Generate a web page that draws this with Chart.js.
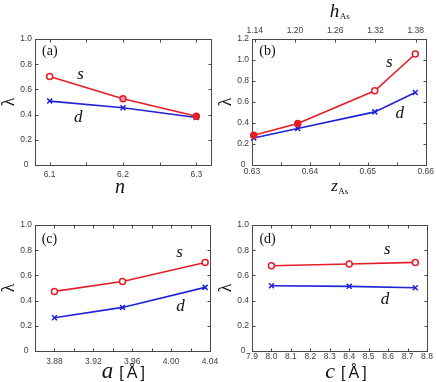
<!DOCTYPE html>
<html><head><meta charset="utf-8">
<script src="https://cdn.jsdelivr.net/npm/chart.js@4.4.0/dist/chart.umd.min.js"></script>
<style>
html,body{margin:0;padding:0;background:#fff;}
#wrap{position:relative;width:436px;height:382px;overflow:hidden;background:#fff}
canvas{position:absolute;left:0;top:0}
</style></head><body>
<div id="wrap">
<canvas id="pa" width="436" height="382"></canvas>
<canvas id="pb" width="436" height="382"></canvas>
<canvas id="pc" width="436" height="382"></canvas>
<canvas id="pd" width="436" height="382"></canvas>
</div>
<script>
// ---------------- data ----------------
// (a) lambda vs n
const nValues = [6.1, 6.2, 6.3];
const sVsN = [0.703, 0.525, 0.387];
const dVsN = [0.507, 0.454, 0.377];
// (b) lambda vs z_As (top axis h_As)
const zAsValues = [0.6303, 0.6379, 0.6512, 0.6582];
const sVsZ = [0.283, 0.395, 0.707, 1.057];
const dVsZ = [0.258, 0.347, 0.506, 0.691];
// (c) lambda vs a
const aValues = [3.88, 3.95, 4.035];
const sVsA = [0.473, 0.552, 0.703];
const dVsA = [0.264, 0.346, 0.505];
// (d) lambda vs c
const cValues = [8.0, 8.4, 8.74];
const sVsC = [0.677, 0.690, 0.703];
const dVsC = [0.518, 0.513, 0.502];

// ---------------- ticks ----------------
const lambdaTicks1 = [0, 0.2, 0.4, 0.6, 0.8, 1.0];
const lambdaLabels1 = ['0', '0.2', '0.4', '0.6', '0.8', '1.0'];
const lambdaTicks2 = [0, 0.2, 0.4, 0.6, 0.8, 1.0, 1.2];
const lambdaLabels2 = ['0', '0.2', '0.4', '0.6', '0.8', '1.0', '1.2'];
const nTicks = [6.1, 6.15, 6.2, 6.25, 6.3];
const nLabels = ['6.1', '', '6.2', '', '6.3'];
const zTicks = [0.63, 0.635, 0.64, 0.645, 0.65, 0.655, 0.66];
const zLabels = ['0.63', '', '0.64', '', '0.65', '', '0.66'];
const hTicks = [1.14, 1.20, 1.26, 1.32, 1.38];
const hLabels = ['1.14', '1.20', '1.26', '1.32', '1.38'];
const aTicks = [3.86, 3.88, 3.90, 3.92, 3.94, 3.96, 3.98, 4.00, 4.02, 4.04];
const aLabels = ['', '3.88', '', '3.92', '', '3.96', '', '4.00', '', '4.04'];
const cTicks = [7.9, 8.0, 8.1, 8.2, 8.3, 8.4, 8.5, 8.6, 8.7, 8.8];
const cLabels = ['7.9', '8.0', '8.1', '8.2', '8.3', '8.4', '8.5', '8.6', '8.7', '8.8'];

// ---------------- styles ----------------
const RED = '#e31e26', BLUE = '#1f23d6', FRAME = '#474747', TXT = '#111', TICKTXT = '#3c3c3c';
const SERIF = '"Liberation Serif", "DejaVu Serif", serif';
const SANS = '"Liberation Sans", Arial, sans-serif';
const W = 436, H = 382, YW = 35, XH = 20, TICKFONT = 8.5;

function drawRuns(ctx, runs, cx, base) {
  ctx.save();
  ctx.fillStyle = TXT; ctx.textBaseline = 'alphabetic'; ctx.textAlign = 'left';
  let w = 0;
  runs.forEach((r, i) => { ctx.font = r.font; r._w = ctx.measureText(r.t).width; w += r._w + (i < runs.length - 1 ? (r.gap || 0) : 0); });
  let x = cx - w / 2;
  runs.forEach(r => { ctx.font = r.font; ctx.fillText(r.t, x, base + (r.dy || 0)); x += r._w + (r.gap || 0); });
  ctx.restore();
}

const decor = {
  id: 'decor',
  beforeDatasetsDraw(chart, args, o) {
    const {ctx, chartArea: ca} = chart;
    const L = Math.round(ca.left) + 0.5, R = Math.round(ca.right) + 0.5;
    const T = Math.round(ca.top) + 0.5, B = Math.round(ca.bottom) + 0.5;
    ctx.save();
    ctx.strokeStyle = FRAME; ctx.lineWidth = 1;
    ctx.beginPath();
    const len = 3;
    Object.values(chart.scales).forEach(sc => {
      sc.ticks.forEach(t => {
        const p = Math.round(sc.getPixelForValue(t.value)) + 0.5;
        if (sc.axis === 'x') {
          if (sc.position === 'bottom') {
            ctx.moveTo(p, B); ctx.lineTo(p, B - len);
            if (o.mirrorX) { ctx.moveTo(p, T); ctx.lineTo(p, T + len); }
          } else { ctx.moveTo(p, T); ctx.lineTo(p, T + len); }
        } else {
          ctx.moveTo(L, p); ctx.lineTo(L + len, p);
          ctx.moveTo(R, p); ctx.lineTo(R - len, p);
        }
      });
    });
    ctx.stroke();
    ctx.strokeRect(L, T, R - L, B - T);
    ctx.restore();
  },
  afterDraw(chart, args, o) {
    const {ctx} = chart;
    const xs = chart.scales.x, ys = chart.scales.y;
    (o.notes || []).forEach(n => {
      ctx.save();
      ctx.font = n.font; ctx.fillStyle = TXT; ctx.textAlign = n.align || 'center'; ctx.textBaseline = 'alphabetic';
      ctx.fillText(n.t, xs.getPixelForValue(n.at[0]), ys.getPixelForValue(n.at[1]));
      ctx.restore();
    });
    (o.titles || []).forEach(tt => drawRuns(ctx, tt.runs, tt.cx, tt.base));
  }
};

function series(xs, ys, color, style, fills) {
  return {
    data: xs.map((x, i) => ({x, y: ys[i]})),
    borderColor: color, borderWidth: 1.6, tension: 0, fill: false, clip: false,
    pointStyle: style, pointRadius: style === 'circle' ? 3 : 3.5, pointBorderWidth: 1.5,
    pointBorderColor: color, pointBackgroundColor: fills || color
  };
}

function xScale(min, max, vals, labels, pad, pos, height) {
  return {
    type: 'linear', position: pos, min, max,
    afterBuildTicks: s => { s.ticks = vals.map(v => ({value: v})); },
    ticks: { autoSkip: false, maxRotation: 0, minRotation: 0, padding: pad, color: TICKTXT,
      font: {family: SANS, size: TICKFONT}, callback: (v, i) => labels[i] ?? '' },
    grid: { display: false, drawTicks: false }, border: { display: false },
    afterFit: s => { s.height = height; }
  };
}

function yScale(max, vals, labels) {
  return {
    type: 'linear', position: 'left', min: 0, max,
    afterBuildTicks: s => { s.ticks = vals.map(v => ({value: v})); },
    ticks: { autoSkip: false, crossAlign: 'center', padding: 3, color: TICKTXT,
      font: {family: SANS, size: TICKFONT}, callback: (v, i) => labels[i] ?? '' },
    grid: { display: false, drawTicks: false }, border: { display: false },
    title: { display: true, text: 'λ', color: TXT, font: {family: SERIF, size: 18}, padding: {top: -1.5, bottom: 0} },
    afterFit: s => { s.width = YW; }
  };
}

function makePanel(id, f, datasets, scales, decorOpts) {
  const hasTop = !!scales.x2;
  new Chart(document.getElementById(id), {
    type: 'line',
    data: { datasets },
    options: {
      responsive: false, animation: false, devicePixelRatio: 1, events: [],
      layout: { padding: { left: f.l - YW, right: W - f.r, top: hasTop ? 0 : f.t, bottom: H - f.b - XH } },
      scales,
      plugins: { legend: {display: false}, tooltip: {enabled: false}, decor: decorOpts }
    },
    plugins: [decor]
  });
}

const it = s => 'italic ' + s + 'px ' + SERIF;
const rm = s => s + 'px ' + SERIF;
const sans = s => s + 'px ' + SANS;

// (a)
makePanel('pa', {l: 35, t: 39, r: 211, b: 165}, [
  series(nValues, sVsN, RED, 'circle', ['#ffffff', '#f08cb4', RED]),
  series(nValues, dVsN, BLUE, 'crossRot')
], {
  x: xScale(6.08, 6.32, nTicks, nLabels, 4.5, 'bottom', XH),
  y: yScale(1.0, lambdaTicks1, lambdaLabels1)
}, {
  mirrorX: true,
  notes: [
    {t: '(a)', at: [6.0896, 0.873], font: rm(14), align: 'left'},
    {t: 's', at: [6.142, 0.683], font: it(17)},
    {t: 'd', at: [6.139, 0.345], font: it(17)}
  ],
  titles: [{cx: 120, base: 192.5, runs: [{t: 'n', font: it(20)}]}]
});

// (b)
makePanel('pb', {l: 252, t: 39, r: 427, b: 165}, [
  series(zAsValues, sVsZ, RED, 'circle', [RED, RED, '#ffffff', '#ffffff']),
  series(zAsValues, dVsZ, BLUE, 'crossRot')
], {
  x: xScale(0.63, 0.66, zTicks, zLabels, 2, 'bottom', XH),
  x2: xScale(1.136, 1.395, hTicks, hLabels, 3, 'top', 39),
  y: yScale(1.2, lambdaTicks2, lambdaLabels2)
}, {
  mirrorX: false,
  notes: [
    {t: '(b)', at: [0.63127, 1.047], font: rm(14), align: 'left'},
    {t: 's', at: [0.6537, 0.930], font: it(17)},
    {t: 'd', at: [0.6555, 0.443], font: it(17)}
  ],
  titles: [
    {cx: 339.7, base: 190.7, runs: [{t: 'z', font: it(17), gap: 0.5}, {t: 'As', font: rm(9), dy: 3}]},
    {cx: 339.7, base: 16.7, runs: [{t: 'h', font: it(19), gap: 0.5}, {t: 'As', font: rm(9), dy: 2}]}
  ]
});

// (c)
makePanel('pc', {l: 35, t: 225, r: 210, b: 351}, [
  series(aValues, sVsA, RED, 'circle', '#ffffff'),
  series(aValues, dVsA, BLUE, 'crossRot')
], {
  x: xScale(3.86, 4.04, aTicks, aLabels, 5.5, 'bottom', XH),
  y: yScale(1.0, lambdaTicks1, lambdaLabels1)
}, {
  mirrorX: true,
  notes: [
    {t: '(c)', at: [3.8669, 0.86], font: rm(14), align: 'left'},
    {t: 's', at: [4.0088, 0.743], font: it(17)},
    {t: 'd', at: [4.0097, 0.314], font: it(17)}
  ],
  titles: [{cx: 123.3, base: 378.3, runs: [
    {t: 'a', font: it(23), gap: 6}, {t: '[', font: sans(16), gap: 3}, {t: 'Å', font: sans(16), gap: 3}, {t: ']', font: sans(16)}
  ]}]
});

// (d)
makePanel('pd', {l: 252, t: 225, r: 427, b: 351}, [
  series(cValues, sVsC, RED, 'circle', '#ffffff'),
  series(cValues, dVsC, BLUE, 'crossRot')
], {
  x: xScale(7.9, 8.8, cTicks, cLabels, 0.7, 'bottom', XH),
  y: yScale(1.0, lambdaTicks1, lambdaLabels1)
}, {
  mirrorX: true,
  notes: [
    {t: '(d)', at: [7.938, 0.86], font: rm(14), align: 'left'},
    {t: 's', at: [8.5965, 0.770], font: it(17)},
    {t: 'd', at: [8.5836, 0.373], font: it(17)}
  ],
  titles: [{cx: 346, base: 377.8, runs: [
    {t: 'c', font: it(22), gap: 6}, {t: '[', font: sans(16), gap: 3}, {t: 'Å', font: sans(16), gap: 3}, {t: ']', font: sans(16)}
  ]}]
});
</script>
</body></html>
